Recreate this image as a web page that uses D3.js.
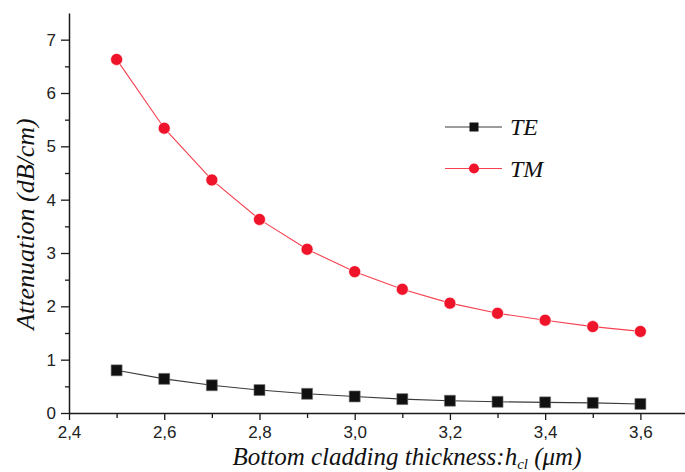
<!DOCTYPE html>
<html>
<head>
<meta charset="utf-8">
<script src="https://cdn.jsdelivr.net/npm/d3@7"></script>
<style>
  html, body { margin: 0; padding: 0; background: #fff; }
  svg { display: block; }
</style>
</head>
<body>
<svg id="chart" width="685" height="472"></svg>
<script>
// Cladding thickness (µm) and attenuation (dB/cm) for each polarisation
const thickness = [2.5, 2.6, 2.7, 2.8, 2.9, 3.0, 3.1, 3.2, 3.3, 3.4, 3.5, 3.6];
const attTE = [0.80, 0.64, 0.52, 0.43, 0.36, 0.31, 0.26, 0.23, 0.21, 0.20, 0.19, 0.17];
const attTM = [6.63, 5.34, 4.37, 3.63, 3.07, 2.65, 2.32, 2.06, 1.87, 1.74, 1.62, 1.53];
const seriesNames = ["TE", "TM"];
const xMajorTicks = [2.4, 2.6, 2.8, 3.0, 3.2, 3.4, 3.6];
const xMinorTicks = [2.5, 2.7, 2.9, 3.1, 3.3, 3.5];
const yMajorTicks = [0, 1, 2, 3, 4, 5, 6, 7];
const yMinorTicks = [0.5, 1.5, 2.5, 3.5, 4.5, 5.5, 6.5];

const svg = d3.select("#chart");
const x = d3.scaleLinear().domain([2.4, 3.7]).range([69, 688]);
const y = d3.scaleLinear().domain([0, 7.5]).range([413, 13]);

const axisColor = "#1a1a1a";
const tickFont = "Liberation Sans";
const titleFont = "Liberation Serif";
const comma = v => d3.format(".1f")(v).replace(".", ",");

// Bottom axis: labelled majors plus short minors
const gx = svg.append("g").attr("transform", `translate(0,${y(0)})`);
gx.call(d3.axisBottom(x).tickValues(xMajorTicks).tickFormat(comma).tickSizeInner(7).tickSizeOuter(0).tickPadding(6));
gx.append("g").call(d3.axisBottom(x).tickValues(xMinorTicks).tickFormat("").tickSizeInner(5).tickSizeOuter(0))
  .select(".domain").remove();

// Left axis
const gy = svg.append("g").attr("transform", `translate(${x(2.4)},0)`);
gy.call(d3.axisLeft(y).tickValues(yMajorTicks).tickFormat(d3.format("d")).tickSizeInner(8).tickSizeOuter(0).tickPadding(5));
gy.append("g").call(d3.axisLeft(y).tickValues(yMinorTicks).tickFormat("").tickSizeInner(4).tickSizeOuter(0))
  .select(".domain").remove();

svg.selectAll(".domain").attr("stroke", axisColor).attr("stroke-width", 1.5);
svg.selectAll(".tick line").attr("stroke", axisColor).attr("stroke-width", 1.3);
svg.selectAll(".tick text").attr("fill", "#222").attr("font-family", tickFont).attr("font-size", 17);
gx.attr("font-family", tickFont).attr("font-size", 17);
gy.attr("font-family", tickFont).attr("font-size", 17);

// Axis titles
svg.append("text")
  .attr("x", 407).attr("y", 465)
  .attr("text-anchor", "middle")
  .attr("font-family", titleFont).attr("font-style", "italic").attr("font-size", 25)
  .attr("fill", "#111")
  .call(t => {
    t.append("tspan").text("Bottom cladding thickness:h");
    t.append("tspan").attr("dy", 4).attr("font-size", 15).text("cl");
    t.append("tspan").attr("dy", -4).text(" (\u03bcm)");
  });

svg.append("text")
  .attr("transform", "translate(34,224) rotate(-90)")
  .attr("text-anchor", "middle")
  .attr("font-family", titleFont).attr("font-style", "italic").attr("font-size", 26)
  .attr("fill", "#111")
  .text("Attenuation (dB/cm)");

// Series
const series = [
  { name: seriesNames[0], values: attTE, line: "#3a3a3a", fill: "#111", shape: "square" },
  { name: seriesNames[1], values: attTM, line: "#f5404f", fill: "#f0142a", shape: "circle" }
];

const lineGen = d3.line().x(d => x(d[0])).y(d => y(d[1]));

series.forEach(s => {
  const pts = thickness.map((t, i) => [t, s.values[i]]);
  svg.append("path").datum(pts)
    .attr("d", lineGen).attr("fill", "none")
    .attr("stroke", s.line).attr("stroke-width", 1.1);
  const sym = d3.symbol().type(s.shape === "square" ? d3.symbolSquare : d3.symbolCircle)
    .size(s.shape === "square" ? 121 : 113);
  svg.append("g").selectAll("path").data(pts).join("path")
    .attr("transform", d => `translate(${x(d[0])},${y(d[1])})`)
    .attr("d", sym)
    .attr("fill", s.fill)
    .attr("stroke", s.shape === "square" ? "#777" : "#fff")
    .attr("stroke-width", 0.6);
});

// Legend
const legend = svg.append("g");
series.forEach((s, i) => {
  const ly = 127 + i * 41.5;
  legend.append("line").attr("x1", 445).attr("x2", 502).attr("y1", ly).attr("y2", ly)
    .attr("stroke", s.line).attr("stroke-width", 1.1);
  legend.append("path")
    .attr("transform", `translate(474,${ly})`)
    .attr("d", d3.symbol().type(s.shape === "square" ? d3.symbolSquare : d3.symbolCircle).size(s.shape === "square" ? 81 : 80))
    .attr("fill", s.fill);
  legend.append("text").attr("x", 510).attr("y", ly + 8)
    .attr("font-family", titleFont).attr("font-style", "italic").attr("font-size", 24)
    .attr("fill", "#111").text(s.name);
});
</script>
</body>
</html>
